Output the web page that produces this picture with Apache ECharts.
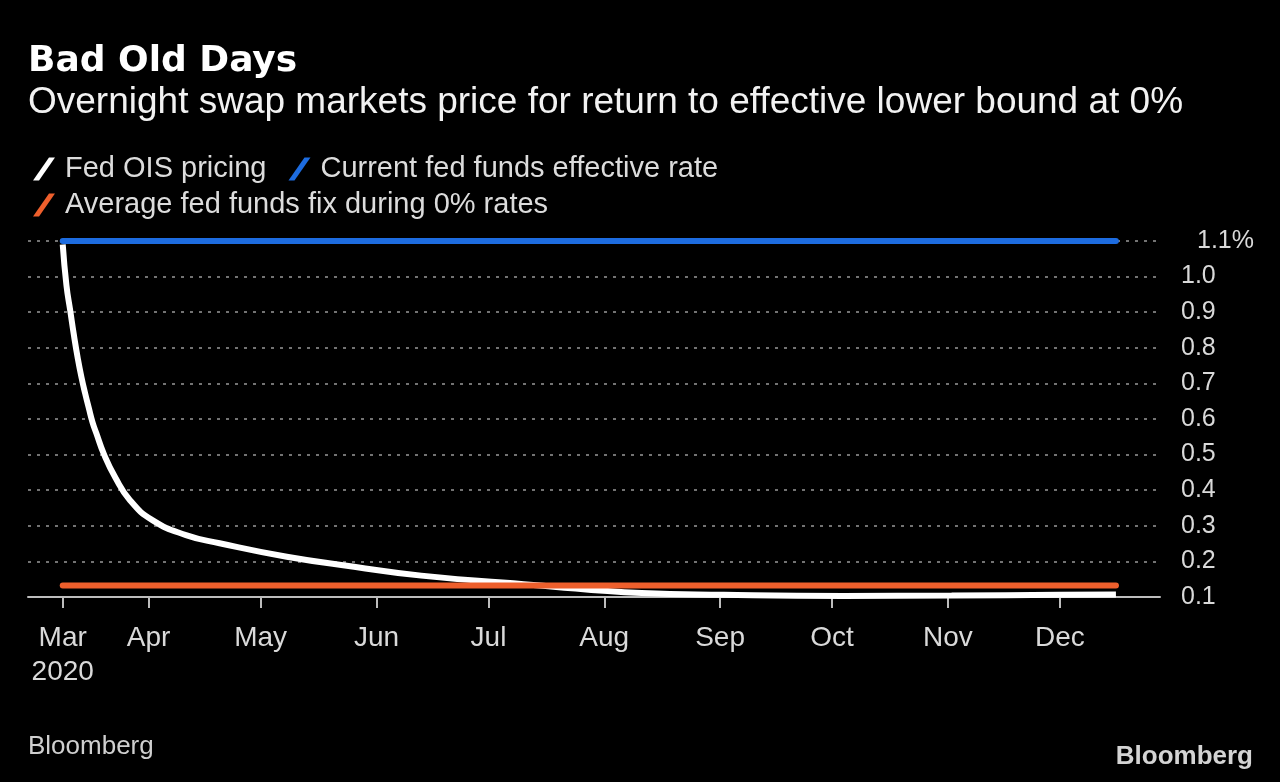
<!DOCTYPE html>
<html>
<head>
<meta charset="utf-8">
<script src="https://cdn.jsdelivr.net/npm/echarts@6/dist/echarts.min.js"></script>
<style>
html,body{margin:0;padding:0;background:#000;}
#chart{width:1280px;height:782px;}
</style>
</head>
<body>
<div id="chart"></div>
<script>
// ---- data ----
const seriesNames = ['Fed OIS pricing', 'Current fed funds effective rate', 'Average fed funds fix during 0% rates'];
const oisDates = ['2020-03-09','2020-03-10','2020-03-11','2020-03-12','2020-03-13','2020-03-14','2020-03-15','2020-03-16','2020-03-17','2020-03-18','2020-03-20','2020-03-23','2020-03-27','2020-04-02','2020-04-11','2020-04-20','2020-05-08','2020-05-26','2020-06-13','2020-07-13','2020-08-11','2020-09-02','2020-10-04','2020-11-02','2020-12-01','2020-12-16'];
const oisValues = [1.09,0.975,0.905,0.835,0.772,0.718,0.672,0.63,0.59,0.56,0.502,0.437,0.372,0.316,0.274,0.251,0.213,0.185,0.16,0.134,0.111,0.106,0.103,0.104,0.106,0.107];
const flatDates = ['2020-03-09','2020-12-16'];
const effectiveRate = [1.1, 1.1];
const zeroRateAvg = [0.132, 0.132];
const monthTickDates = ['2020-03-09','2020-04-01','2020-05-01','2020-06-01','2020-07-01','2020-08-01','2020-09-01','2020-10-01','2020-11-01','2020-12-01'];
const monthLabels = ['Mar\n2020','Apr','May','Jun','Jul','Aug','Sep','Oct','Nov','Dec'];
const axisStart = '2020-02-28';
const axisEnd = '2020-12-27';

// ---- helpers ----
const DAY = 86400000;
const ts = s => Date.parse(s + 'T00:00:00Z');
const pair = (ds, vs) => ds.map((d, i) => [ts(d), vs[i]]);
const tickVals = monthTickDates.map(ts);
const labelFor = v => { const i = tickVals.indexOf(v); return i >= 0 ? monthLabels[i] : ''; };

const SANS = '"Liberation Sans", Arial, sans-serif';
const chart = echarts.init(document.getElementById('chart'), null, {renderer: 'canvas'});
const slash = 'path://M0,23 L6,23 L22,0 L16,0 Z';
const legendText = {color: '#dcdcdc', fontSize: 29, fontFamily: SANS, padding: [0,0,0,5], lineHeight: 30};

chart.setOption({
  backgroundColor: '#000',
  animation: false,
  grid: {left: 28, right: 120, top: 241, bottom: 185},
  legend: [
    {
      data: [seriesNames[0], seriesNames[1]],
      left: 28, top: 149, padding: 5, icon: slash, itemWidth: 22, itemHeight: 23, itemGap: 22,
      selectedMode: false, itemStyle: {borderWidth: 0}, textStyle: legendText
    },
    {
      data: [seriesNames[2]],
      left: 28, top: 185, padding: 5, icon: slash, itemWidth: 22, itemHeight: 23, itemGap: 22,
      selectedMode: false, itemStyle: {borderWidth: 0}, textStyle: legendText
    }
  ],
  xAxis: {
    type: 'value',
    min: ts(axisStart) + 0.7 * DAY,
    max: ts(axisEnd) + 0.8 * DAY,
    splitLine: {show: false},
    axisLine: {show: true, lineStyle: {color: '#bdbdbd', width: 2}},
    axisTick: {show: true, customValues: tickVals, length: 11, lineStyle: {color: '#bdbdbd', width: 2}},
    axisLabel: {
      customValues: tickVals, formatter: labelFor, margin: 24,
      color: '#d9d9d9', fontSize: 28, fontFamily: SANS, lineHeight: 34
    }
  },
  yAxis: {
    type: 'value', position: 'right', min: 0.1, max: 1.1, interval: 0.1,
    axisLine: {show: false}, axisTick: {show: false},
    splitLine: {show: true, lineStyle: {color: '#737373', width: 2, type: [3, 6]}},
    axisLabel: {
      margin: 21, align: 'left', color: '#d9d9d9', fontSize: 25, fontFamily: SANS,
      formatter: v => Math.abs(v - 1.1) < 1e-6 ? '{t|1.1%}' : v.toFixed(1),
      rich: {t: {padding: [0,0,0,16], color: '#d9d9d9', fontSize: 25, fontFamily: SANS}}
    }
  },
  series: [
    {
      name: seriesNames[0], type: 'line', data: pair(oisDates, oisValues),
      smooth: 0.5, showSymbol: false, z: 2,
      lineStyle: {color: '#ffffff', width: 6}, itemStyle: {color: '#ffffff'}
    },
    {
      name: seriesNames[2], type: 'line', data: pair(flatDates, zeroRateAvg),
      showSymbol: false, z: 3,
      lineStyle: {color: '#ee5f2c', width: 6, cap: 'round'}, itemStyle: {color: '#ee5f2c'}
    },
    {
      name: seriesNames[1], type: 'line', data: pair(flatDates, effectiveRate),
      showSymbol: false, z: 4,
      lineStyle: {color: '#1d6ce0', width: 6, cap: 'round'}, itemStyle: {color: '#1d6ce0'}
    }
  ],
  graphic: [
    {type: 'text', x: 28, y: 62, style: {text: 'Bad Old Days', fill: '#ffffff', font: 'bold 36px "DejaVu Sans", sans-serif', verticalAlign: 'middle'}},
    {type: 'text', x: 28, y: 103, style: {text: 'Overnight swap markets price for return to effective lower bound at 0%', fill: '#f2f2f2', font: '37px ' + SANS, verticalAlign: 'middle'}},
    {type: 'text', x: 28, y: 747, style: {text: 'Bloomberg', fill: '#cfcfcf', font: '26px ' + SANS, verticalAlign: 'middle'}},
    {type: 'text', x: 1253, y: 757, style: {text: 'Bloomberg', fill: '#d4d4d4', font: 'bold 26px ' + SANS, align: 'right', verticalAlign: 'middle'}}
  ]
});
</script>
</body>
</html>
